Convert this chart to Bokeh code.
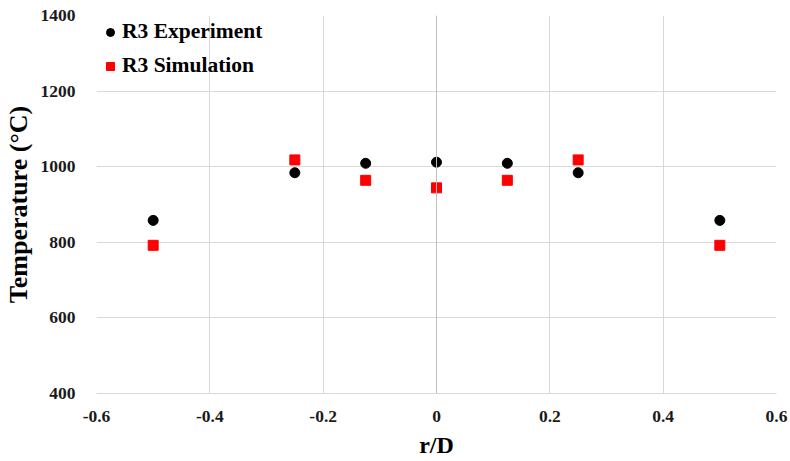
from bokeh.plotting import figure
from bokeh.models import Span, FixedTicker, Range1d
from bokeh.embed import file_html
from bokeh.resources import INLINE

# Radial temperature profile, R3 case
r_over_d = [-0.5, -0.25, -0.125, 0.0, 0.125, 0.25, 0.5]
temp_experiment = [858, 984, 1009, 1012, 1009, 984, 858]
temp_simulation = [792, 1018, 964, 944, 964, 1018, 792]

x_ticks = [-0.6, -0.4, -0.2, 0.0, 0.2, 0.4, 0.6]
y_ticks = [400, 600, 800, 1000, 1200, 1400]

FONT = "Liberation Serif"
GRID = "#d9d9d9"

p = figure(width=790, height=461, output_backend="svg", toolbar_location=None,
           x_range=Range1d(-0.6, 0.6), y_range=Range1d(400, 1400),
           min_border_left=94, min_border_right=14, min_border_top=15,
           min_border_bottom=68)
p.outline_line_color = None
p.background_fill_color = "white"
p.border_fill_color = "white"

p.xaxis.ticker = FixedTicker(ticks=x_ticks)
p.yaxis.ticker = FixedTicker(ticks=y_ticks)
p.xaxis.major_label_overrides = {-0.6: "-0.6", -0.4: "-0.4", -0.2: "-0.2", 0.0: "0",
                                 0.2: "0.2", 0.4: "0.4", 0.6: "0.6"}

for ax in (p.xaxis[0], p.yaxis[0]):
    ax.major_tick_line_color = None
    ax.minor_tick_line_color = None
    ax.major_label_text_font = FONT
    ax.major_label_text_font_style = "bold"
    ax.major_label_text_font_size = "17.5px"
    ax.major_label_text_color = "#1a1a1a"
    ax.axis_label_text_font = FONT
    ax.axis_label_text_font_style = "bold"
    ax.axis_label_text_color = "black"

p.xaxis.axis_label_text_font_size = "24px"
p.yaxis.axis_label_text_font_size = "26px"
p.xaxis.axis_line_color = GRID
p.yaxis.axis_line_color = None
p.xaxis.major_label_standoff = 11
p.yaxis.major_label_standoff = 15
p.xaxis.axis_label = "r/D"
p.yaxis.axis_label = "Temperature (\u00b0C)"
p.xaxis.axis_label_standoff = 7
p.yaxis.axis_label_standoff = 5

p.xgrid.grid_line_color = GRID
p.ygrid.grid_line_color = GRID

# vertical axis line crossing at r/D = 0
p.add_layout(Span(location=0, dimension="height", line_color="#bfbfbf", line_width=1))

p.scatter(r_over_d, temp_experiment, marker="circle", size=10, color="black",
          legend_label="R3 Experiment")
p.scatter(r_over_d, temp_simulation, marker="square", size=10, color="#ff0000",
          legend_label="R3 Simulation")

lg = p.legend[0]
lg.location = "top_left"
lg.background_fill_alpha = 0
lg.border_line_color = None
lg.label_text_font = FONT
lg.label_text_font_style = "bold"
lg.label_text_font_size = "21.5px"
lg.label_text_color = "black"
lg.glyph_width = 20
lg.glyph_height = 20
lg.label_standoff = 2
lg.spacing = 9
lg.margin = 4
lg.padding = 4

open("out.html", "w").write(file_html(p, INLINE))
